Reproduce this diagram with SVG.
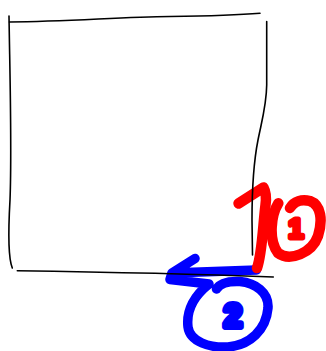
<svg xmlns="http://www.w3.org/2000/svg" width="326" height="351" viewBox="0 0 326 351">
<style>
.ink{fill:none;stroke:#000;stroke-width:1.6;stroke-linecap:round;stroke-linejoin:round}
.red{fill:none;stroke:#ff0000;stroke-width:10.5;stroke-linecap:round;stroke-linejoin:round}
.blue{fill:none;stroke:#0000ff;stroke-width:9.5;stroke-linecap:round;stroke-linejoin:round}
.num{font-family:"Liberation Sans",Arial,sans-serif;font-weight:bold;text-anchor:middle;stroke-linejoin:round;stroke-linecap:round}
</style>
<rect width="326" height="351" fill="#fff"/>
<g id="annotation-2">
<path class="blue" d="M256.5,270 L172,273 L195,258.5 M172,273 L170,279.5 L209,284 C195,295 186,310 188,327 C190,342 210,348 228,347 C250,345 266,330 268,308 C269,292 255,283 240,281.5 C228,281 220,283 216.5,289"/>
<text class="num" x="233" y="327" font-size="33" fill="#0000ff" stroke="#0000ff" stroke-width="6">2</text>
</g>
<g id="annotation-1">
<path class="red" d="M238.5,203.5 L263.5,187.5 Q267,194 265.5,205 C263,225 262,255 257,268"/>
<path class="red" d="M278.3,203.3 C271,215 268,240 278,253 C290,262 312,253 318,236 C323,220 321,205 310,201 C302,199 294,201 290,208"/>
<text class="num" x="296" y="238" font-size="27" fill="#ff0000" stroke="#ff0000" stroke-width="5">1</text>
</g>
<g id="square">
<path class="ink" d="M9.5,22 C70,21.5 120,17 170,16.5 C210,16 240,15 260,13.3"/>
<path class="ink" d="M9,16 C10,80 12,150 10,200 C8,235 9,260 12.3,268"/>
<path class="ink" d="M266.7,21.5 L266.7,85 C266.5,105 262,120 258,140 C253,165 252,190 252,220 L252.5,255"/>
<path class="ink" d="M17.3,270.8 C100,272 180,273.5 273.3,277"/>
</g>
</svg>
